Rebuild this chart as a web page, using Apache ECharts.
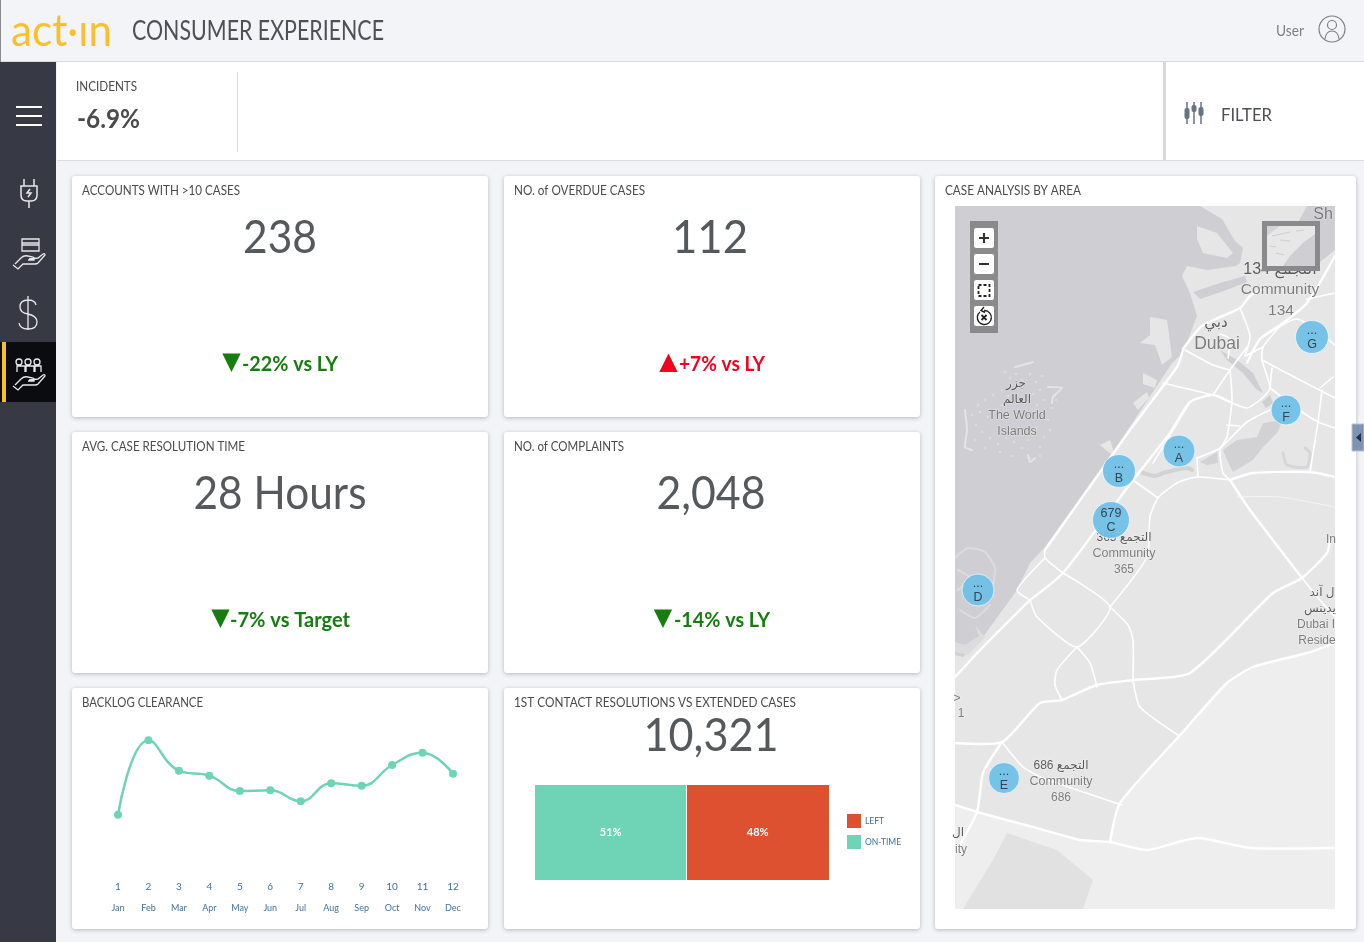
<!DOCTYPE html>
<html><head><meta charset="utf-8">
<script src="https://cdn.jsdelivr.net/npm/echarts@6/dist/echarts.min.js"></script>
<style>html,body{margin:0;padding:0;background:#f3f4f8;overflow:hidden}#c{width:1364px;height:942px}</style>
</head><body><div id="c"></div>
<script>
// ---------- data ----------
const monthNumbers = ['1','2','3','4','5','6','7','8','9','10','11','12'];
const monthNames = ['Jan','Feb','Mar','Apr','May','Jun','Jul','Aug','Sep','Oct','Nov','Dec'];
const backlogValues = [36.9,86.5,66.2,62.9,52.7,53.1,45.8,57.8,56.2,70,78.2,64.2];
const onTimeShare = 51;
const leftShare = 48;
const clusterNames = ['A','B','C','D','E','F','G'];
const clusterCounts = ['...','...','679','...','...','...','...'];
const clusterX = [1179,1119,1111,978,1004,1286,1312];
const clusterY = [451,471,520,590,778,410,337];
const clusterSize = [32,33,37,32,31,30,33];
const waterArea = [[955,206],[1200,206],[1222,219],[1235,241],[1243,248],[1240,263],[1236,266],[1207,270],[1187,266],[1182,276],[1190,293],[1197,316],[1183,353],[1172,363],[1123,437],[1098,473],[1045,547],[1030,563],[1017,590],[983,637],[963,657],[955,655]];
const lagoonArea = [[1307,206],[1335,206],[1335,250],[1320,262],[1300,270],[1296,226]];
const channelArea = [[1193,292],[1220,283],[1245,276],[1247,282],[1224,291],[1200,299]];
const creekArea = [[1220,350],[1237,360],[1253,373],[1263,393],[1257,390],[1243,373],[1227,360]];
const lakeArea = [[1262,402],[1270,395],[1273,403],[1266,408]];
const marshArea = [[1223,450],[1237,440],[1257,437],[1263,423],[1283,420],[1277,433],[1263,447],[1253,460],[1233,472],[1227,460]];
const marshSmall = [[1200,462],[1217,452],[1218,463],[1207,465]];
const lightLand = [[1335,643],[1307,653],[1253,667],[1227,683],[1182,733],[1120,803],[1110,842],[1080,840],[1033,827],[977,812],[955,805],[955,909],[1335,909]];
const parkArea = [[1007,833],[1057,850],[1093,880],[1083,909],[963,909],[993,860]];
const deiraIsland = [[1197,226],[1217,233],[1233,253],[1227,258],[1203,253],[1197,239]];
const portLand = [[1150,317],[1167,320],[1172,357],[1162,365],[1155,345],[1140,343],[1150,335]];
const portPieceA = [[1143,373],[1157,380],[1155,388],[1143,384]];
const portPieceB = [[1133,403],[1147,392],[1149,398],[1138,410]];
const portPieceC = [[1100,445],[1110,440],[1115,455],[1108,452]];
const palmLand = [[975,625],[985,637],[968,655],[955,652],[955,642],[965,645],[979,636]];
const worldIslands = [[1005,372],[1010,378],[1016,374],[1022,380],[1030,374],[1036,382],[1042,376],[1040,390],[1033,394],[1044,400],[1037,405],[1042,413],[1048,420],[1052,408],[1056,400],[1058,392],[1050,430],[1044,437],[1040,447],[1036,428],[1028,440],[1022,448],[1014,442],[1006,438],[998,444],[990,438],[982,432],[976,425],[972,415],[980,412],[988,417],[996,410],[1002,405],[978,405],[985,400],[993,395],[1002,390],[1008,396],[975,440],[985,448],[1000,452],[1012,456],[1030,458],[1040,456]];
const worldArcs = [[[1015,367],[1023,365],[1033,362]],[[1048,387],[1062,388],[1053,397],[1052,403]],[[965,410],[967,430],[965,447],[972,450]],[[1028,455],[1030,462],[1035,458]]];
const palmArcs = [[[955,558],[968,548],[985,552],[995,568],[993,585]],[[960,610],[975,618],[990,605]],[[958,570],[970,578],[958,590]]];
const canalLine = [[[1143,473],[1155,476],[1163,473],[1175,470],[1187,468],[1192,470]]];
const squiggleLine = [[[1283,453],[1287,465],[1307,467],[1310,453],[1305,448]]];
const minorRoads = [
 [[1030,600],[1037,617],[1077,647],[1110,607],[1063,573]],
 [[1045,550],[1045,558],[1063,573]],
 [[1045,558],[1017,590],[1030,600]],
 [[1110,607],[1147,557],[1150,517],[1158,498],[1177,483],[1197,477],[1230,480]],
 [[1133,480],[1158,498]],
 [[1110,607],[1128,625],[1133,640],[1133,680]],
 [[1077,647],[1057,670],[1055,685],[1062,700]],
 [[1077,647],[1090,663],[1097,687]],
 [[1133,680],[1140,707],[1178,735]],
 [[1002,742],[1023,767],[1043,778],[1122,805]],
 [[1163,383],[1213,395]],
 [[1213,395],[1230,370],[1247,347]],
 [[1185,350],[1213,365],[1230,370]],
 [[1230,370],[1232,400],[1227,437],[1220,450],[1223,473],[1230,480]],
 [[1230,402],[1247,408],[1260,400],[1270,388],[1262,360],[1263,347],[1283,323]],
 [[1197,458],[1220,448],[1247,422],[1270,410]],
 [[1227,425],[1240,426]],
 [[1302,412],[1318,422],[1335,428]],
 [[1322,390],[1318,422],[1310,472]],
 [[1262,360],[1300,380],[1335,398]],
 [[1270,388],[1272,368]],
 [[1333,377],[1320,388]],
 [[1197,458],[1198,477]],
 [[1190,402],[1153,463]],
 [[1270,388],[1302,412]],
 [[1240,308],[1250,336],[1245,356]],
 [[1220,334],[1230,339],[1228,358]],
 [[1245,356],[1263,347]],
 [[1307,299],[1335,293]],
 [[1260,339],[1297,319],[1335,345]],
 [[1302,578],[1320,600],[1335,617]]
];
const thinRoads = [[[1237,497],[1280,497],[1335,507]]];
const majorRoads = [
 [[1335,256],[1307,303],[1283,323],[1260,339],[1247,363]],
 [[1183,349],[1202,326],[1240,308],[1250,296],[1263,289]],
 [[1030,600],[1063,573],[1133,480],[1170,433],[1190,402],[1213,395],[1230,402]],
 [[1030,600],[983,647],[955,677]],
 [[1183,350],[1177,367],[1130,430],[1045,550]],
 [[955,743],[1002,742],[1040,703],[1062,700],[1097,685],[1133,680],[1190,673],[1273,593],[1302,578],[1327,553],[1330,540]],
 [[1110,842],[1120,803],[1182,733],[1227,683],[1253,667],[1307,653],[1335,643]],
 [[1002,742],[983,773],[977,812],[955,853]],
 [[955,805],[977,812],[1033,827],[1080,840],[1110,842],[1147,850],[1197,838],[1250,848],[1335,848]],
 [[1302,578],[1250,510],[1230,480]],
 [[1230,480],[1253,473],[1310,472],[1335,477]]
];
const placeText = ['Sh','134 التجمع','Community','134','دبي','Dubai','جزر','العالم','The World','Islands','365 التجمع','Community','365','In','ل آند','يدينس','Dubai I','Reside','>','1','ال','ity','686 التجمع','Community','686'];
const placeX = [1323,1280,1280,1281,1216,1217,1016,1017,1017,1017,1124,1124,1124,1331,1322,1320,1316,1317,957,961,958,961,1061,1061,1061];
const placeY = [215,270,290,311,323,344,384,400,416,432,538,554,570,540,593,609,625,641,699,714,833,850,766,782,798];
const placeSize = [16,16,15.5,15.5,15,17.5,12,12,12.5,12.5,12,12.5,12,12,12,12,12,12,12,12,12,12,12,12.5,12];
const placeDark = [false,true,false,false,true,false,true,true,false,false,true,false,false,false,true,true,false,false,false,false,true,false,true,false,false];
const cardTitles = ['ACCOUNTS WITH >10 CASES','NO. of OVERDUE CASES','AVG. CASE RESOLUTION TIME','NO. of COMPLAINTS','BACKLOG CLEARANCE','1ST CONTACT RESOLUTIONS VS EXTENDED CASES','CASE ANALYSIS BY AREA'];
const kpiValues = ['238','112','28 Hours','2,048','10,321'];
const kpiDeltas = ['-22% vs LY','+7% vs LY','-7% vs Target','-14% vs LY'];

// ---------- helpers ----------
const FF = 'Lato, "Noto Sans", sans-serif';
const measure = document.createElement('canvas').getContext('2d');
const els = [];
function txt(text, x, y, font, fill, targetW, align, z) {
  measure.font = font;
  const w = measure.measureText(text).width;
  els.push({type:'text', x, y, z: z||3, scaleX: targetW ? targetW / w : 1, silent:true,
    style:{text, font, fill, textAlign: align||'left', textVerticalAlign:'middle'}});
}
function rect(x,y,w,h,fill,z,extra){
  els.push({type:'rect', z:z||0, silent:true, shape:Object.assign({x,y,width:w,height:h},(extra&&extra.shape)||{}),
    style:Object.assign({fill},(extra&&extra.style)||{})});
}
let iconN=0;
function icon(d, stroke, lw, z){
  const name='iconShape'+(iconN++);
  echarts.graphic.registerShape(name, echarts.graphic.extendPath(d));
  els.push({type:name, z:z||4, silent:true,
    style:{fill:'none', stroke, lineWidth:lw||1.3}});
}
// ---------- page chrome ----------
rect(0,0,1364,61,'#f3f4f8',0);
rect(0,61,1364,1,'#d8d9dc',1);
rect(0,0,1,62,'#8a8a8a',1);
rect(0,62,56,880,'#373a44',1);
rect(0,342,56,60,'#0b0c10',2);
rect(2,342,4,60,'#f9bf2b',3);
rect(57,62,1106,98,'#ffffff',1);
rect(57,160,1307,1,'#dcdde0',1);
rect(1163,62,3,98,'#d8d9dc',1);
rect(1166,62,198,98,'#ffffff',1);
rect(237,72,1,80,'#d9d9d9',2);
rect(1352,424,12,27,'#7f93b5',2,{style:{stroke:'#b9c2d3',lineWidth:1}});
els.push({type:'polygon',z:3,silent:true,shape:{points:[[1356,437.5],[1361,433],[1361,442]]},style:{fill:'#20304d'}});
const cardBoxes = [[72,176,416,241],[504,176,416,241],[72,432,416,241],[504,432,416,241],[72,688,416,241],[504,688,416,241],[935,176,421,753]];
cardBoxes.forEach(b=>rect(b[0],b[1],b[2],b[3],'#ffffff',1,{shape:{r:3},style:{shadowBlur:4,shadowColor:'rgba(0,0,0,0.25)',shadowOffsetY:1}}));

txt('act·ın',11,32,'400 44px '+FF,'#f9c02d',101);
txt('CONSUMER EXPERIENCE',132,32,'400 26px '+FF,'#4d5056',252);
txt('User',1276,31,'400 15px '+FF,'#7d7f85',28);
els.push({type:'circle',z:3,silent:true,shape:{cx:1332,cy:29,r:13},style:{fill:'none',stroke:'#7d7f85',lineWidth:1.2}});
icon('M1325 39 q1 -8 7 -8 q6 0 7 8 M1327.5 25 a4.5 4.5 0 1 0 9 0 a4.5 4.5 0 1 0 -9 0','#7d7f85',1.2);
txt('INCIDENTS',76,86,'400 14px '+FF,'#4b4b4b',61);
txt('-6.9%',77,120,'700 26px '+FF,'#4b4b4b',63);
txt('FILTER',1221,115,'400 18px '+FF,'#4b4f57',51);
[1187,1194,1201].forEach((x,i)=>{
  rect(x-0.75,102,1.5,22,'#687384',3);
  rect(x-2.5,[108,105,107][i],5,[11,7,9][i],'#687384',3,{shape:{r:2}});
});
[107,116,125].forEach(y=>rect(16,y-1,26,2,'#ffffff',3));
// sidebar icons
const W='#e8e8ea';
icon('M21 186 h16 v9 q0 6 -6 6 h-4 q-6 0 -6 -6 z M24 179 v7 M34 179 v7 M29 201 v7 M30 189 l-3 4 h4 l-3 4',W,1.5);
icon('M22 239 h17 v12 h-17 z M22 243 h17 M22 245 h17 M15 264 l6 -6 q3 -3 7 -2 l5 1 q2 1 1 3 l-6 0 M29 259 l9 -1 l5 -4 q2 -1 2 1 l-7 8 q-1 1 -3 1 l-12 0 l-5 5 l-5 -4',W,1.3);
icon('M36 305 q-1 -5 -8 -5 q-8 0 -8 7 q0 6 8 7 q9 2 9 8 q0 7 -9 7 q-8 0 -9 -6 M28 296 v34',W,1.3);
icon('M16 362 a3 3 0 1 0 6 0 a3 3 0 1 0 -6 0 M25 362 a3 3 0 1 0 6 0 a3 3 0 1 0 -6 0 M34 362 a3 3 0 1 0 6 0 a3 3 0 1 0 -6 0 M17 372 v-6 h8 v6 M26 372 v-6 h8 v6 M35 372 v-6 h6 v6 M15 385 l6 -6 q3 -3 7 -2 l5 1 q2 1 1 3 l-6 0 M29 380 l9 -1 l5 -4 q2 -1 2 1 l-7 8 q-1 1 -3 1 l-12 0 l-5 5 l-5 -4',W,1.3);

// card text
const titleW = [158,131,163,110,121,282,136];
const titleX = [82,514,82,514,82,514,945];
const titleY = [190,190,446,446,702,702,190];
cardTitles.forEach((t,i)=>txt(t,titleX[i],titleY[i],'400 14px '+FF,'#4b4b4b',titleW[i]));
const valX=[280,710,280,711,711], valY=[238,238,494,494,736], valW=[74,76,173,109,135];
kpiValues.forEach((t,i)=>txt(t,valX[i],valY[i],'400 47px '+FF,'#55595c',valW[i],'center'));
const dX=[242,679,230,674], dY=[365,365,621,621], dW=[96,86,120,96], dC=['#177d10','#f5001f','#177d10','#177d10'], triX=[231.5,668.5,220.5,663], triG=['▼','▲','▼','▼'];
kpiDeltas.forEach((t,i)=>{
  txt(t,dX[i],dY[i],'700 20px '+FF,dC[i],dW[i]);
  txt(triG[i],triX[i],dY[i]-2,'400 24px "DejaVu Sans"',dC[i],null,'center');
});
// map zoom controls
rect(970,221,28,112,'#8a8a8c',20);
[227,253,279,305].forEach(y=>rect(974,y+1,20,20,'#ffffff',21,{shape:{r:2}}));
icon('M979 238 h10 M984 233 v10 M979 264 h10','#333',2.2,22);
els.push({type:'rect',z:22,silent:true,shape:{x:978.5,y:285,width:11,height:11},style:{fill:'none',stroke:'#222',lineWidth:1.8,lineDash:[3,2]}});
icon('M980 312 a7 7 0 1 0 4 -1.5 M984 307 l-3 3.5 l4 2','#222',1.4,22);
icon('M981.5 315 l5 5 M986.5 315 l-5 5','#222',1.8,22);
// overview map
rect(1262,221,58,50,'#8a8a8c',20);
rect(1267,226,48,40,'#e7e7e8',21);
els.push({type:'polygon',z:22,silent:true,shape:{points:[[1315,234],[1303,243],[1290,256],[1283,266],[1315,266]]},style:{fill:'#cfcfd3'}});
els.push({type:'polygon',z:22,silent:true,shape:{points:[[1267,226],[1280,226],[1267,236]]},style:{fill:'#d4d4d7'}});
icon('M1272 236 l18 -4 M1270 246 l6 1 M1280 240 l10 1 M1276 253 l8 2 M1296 231 l8 -1','#cfcfd2',1,22);

// ---------- chart ----------
const roadRender = (list,w,color)=>(p,api)=>{
  const pts=list[api.value(0)].map(q=>api.coord(q));
  return {type:'polyline',shape:{points:pts,smooth:0.2},style:{fill:null,stroke:color,lineWidth:w,lineCap:'round',lineJoin:'round'}};
};
const DARK='#cfcfd3', LAND='#e6e6e7';
const areas=[{p:waterArea,c:DARK},{p:lagoonArea,c:DARK},{p:lightLand,c:'#eeeeee'},{p:parkArea,c:'#e1e1e1'},{p:channelArea,c:DARK},{p:creekArea,c:DARK},{p:lakeArea,c:DARK},{p:marshArea,c:'#d2d2d5'},{p:marshSmall,c:'#d2d2d5'},{p:deiraIsland,c:LAND},{p:portLand,c:LAND},{p:portPieceA,c:LAND},{p:portPieceB,c:LAND},{p:portPieceC,c:LAND},{p:palmLand,c:'#dcdcdf'}];
const idx=a=>a.map((_,i)=>[i]);
const mapLine=(list,w,color)=>({type:'custom',xAxisIndex:3,yAxisIndex:2,clip:true,z:2,silent:true,data:idx(list),renderItem:roadRender(list,w,color)});
const chart=echarts.init(document.getElementById('c'));
chart.setOption({
  animation:false, backgroundColor:'#f3f4f8',
  graphic:{elements:els},
  legend:{left:842,top:809,orient:'vertical',itemWidth:14,itemHeight:14,itemGap:7,icon:'rect',data:['LEFT','ON-TIME'],
    textStyle:{color:'#3f73a3',fontSize:8.5,fontFamily:FF,padding:[0,0,0,-1]}},
  grid:[
    {left:118,width:335,top:720,height:150},
    {left:535,width:294,top:785,height:95},
    {left:955,width:380,top:206,height:703}
  ],
  xAxis:[
    {gridIndex:0,z:10,type:'category',boundaryGap:false,data:monthNumbers,axisLine:{show:false},axisTick:{show:false},splitLine:{show:false},
      axisLabel:{margin:12,fontSize:10,color:'#3f73a3',fontFamily:FF,interval:0}},
    {gridIndex:0,z:10,type:'category',position:'bottom',boundaryGap:false,data:monthNames,axisLine:{show:false},axisTick:{show:false},splitLine:{show:false},
      axisLabel:{margin:34,fontSize:9,color:'#3f73a3',fontFamily:FF,interval:0}},
    {gridIndex:1,type:'value',min:0,max:onTimeShare+leftShare,show:false},
    {gridIndex:2,type:'value',min:955,max:1335,show:false}
  ],
  yAxis:[
    {gridIndex:0,type:'value',min:0,max:100,show:false},
    {gridIndex:1,type:'category',data:['Cases'],show:false},
    {gridIndex:2,type:'value',min:206,max:909,inverse:true,show:false}
  ],
  series:[
    {name:'Backlog',type:'line',xAxisIndex:0,yAxisIndex:0,data:backlogValues,smooth:0.45,symbol:'circle',symbolSize:8,z:3,
      lineStyle:{color:'#6fd4b5',width:2.5},itemStyle:{color:'#6fd4b5'}},
    {name:'ON-TIME',type:'bar',stack:'c',xAxisIndex:2,yAxisIndex:1,data:[onTimeShare],barWidth:'100%',z:3,
      itemStyle:{color:'#6fd4b5'},label:{show:true,position:'inside',formatter:'{c}%',color:'#fff',fontSize:11,fontFamily:FF,fontWeight:700}},
    {name:'LEFT',type:'bar',stack:'c',xAxisIndex:2,yAxisIndex:1,data:[leftShare],barWidth:'100%',z:3,
      itemStyle:{color:'#dd5130'},label:{show:true,position:'inside',formatter:'{c}%',color:'#fff',fontSize:11,fontFamily:FF,fontWeight:700},
      markLine:{silent:true,symbol:'none',label:{show:false},lineStyle:{color:'#fff',width:1,type:'solid'},data:[{xAxis:onTimeShare}],z:4}},
    {type:'custom',xAxisIndex:3,yAxisIndex:2,clip:true,z:2,silent:true,data:[[0]],
      renderItem:(p,api)=>{const c=api.coord([955,206]),d=api.coord([1335,909]);return {type:'rect',shape:{x:c[0],y:c[1],width:d[0]-c[0],height:d[1]-c[1]},style:{fill:LAND}};}},
    {type:'custom',xAxisIndex:3,yAxisIndex:2,clip:true,z:2,silent:true,data:idx(areas),
      renderItem:(p,api)=>{const a=areas[api.value(0)];return {type:'polygon',shape:{points:a.p.map(q=>api.coord(q))},style:{fill:a.c}};}},
    {type:'scatter',xAxisIndex:3,yAxisIndex:2,z:2,silent:true,symbol:'circle',symbolSize:2.5,itemStyle:{color:'#dfdfe1'},data:worldIslands},
    mapLine(worldArcs,2,'#e4e4e6'),
    mapLine(palmArcs,2,'#dcdcdf'),
    mapLine(canalLine,4,'#d2d2d5'),
    mapLine(squiggleLine,3,'#d6d6d9'),
    mapLine(thinRoads,1,'#f6f6f6'),
    mapLine(minorRoads,1.6,'#ffffff'),
    mapLine(majorRoads,2.4,'#ffffff'),
    {type:'scatter',xAxisIndex:3,yAxisIndex:2,z:3,silent:true,symbolSize:1,itemStyle:{color:'transparent'},
      data:placeText.map((t,i)=>({value:[placeX[i],placeY[i]],label:{formatter:t,fontSize:placeSize[i],color:placeDark[i]?'#333333':'#5e5e5e'}})),
      label:{show:true,position:'inside',fontFamily:'"Liberation Sans","DejaVu Sans",sans-serif',textBorderColor:'rgba(255,255,255,0.6)',textBorderWidth:1}},
    {type:'scatter',xAxisIndex:3,yAxisIndex:2,z:5,silent:true,
      data:clusterNames.map((n,i)=>({value:[clusterX[i],clusterY[i]],symbolSize:clusterSize[i],label:{formatter:clusterCounts[i]+'\n'+n}})),
      itemStyle:{color:'#6ebfe6',borderColor:'rgba(255,255,255,0.7)',borderWidth:1,opacity:0.93},
      label:{show:true,position:'inside',color:'#2c3a44',fontSize:12.5,lineHeight:14,fontFamily:'"Liberation Sans",sans-serif',offset:[0,1]}}
  ]
});
</script></body></html>
